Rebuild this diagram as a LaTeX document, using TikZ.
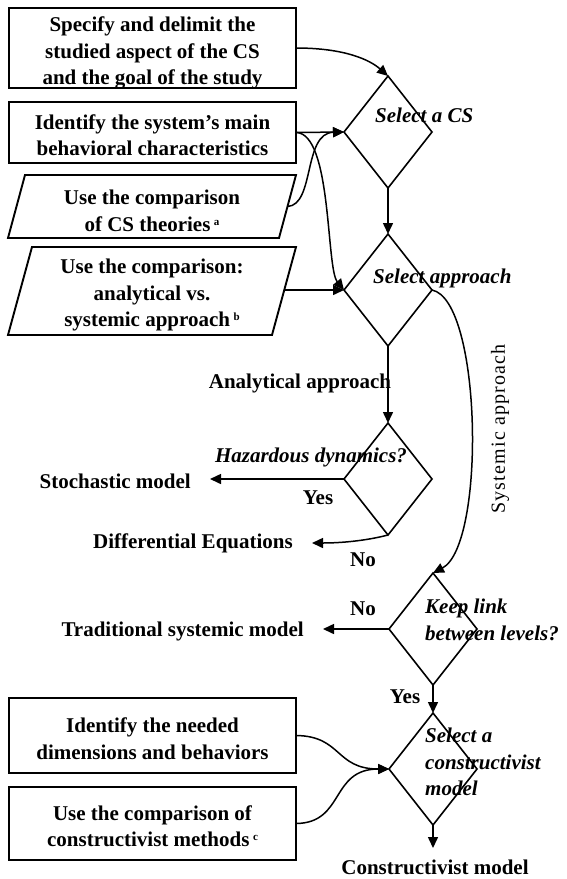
\documentclass[tikz,border=0pt]{standalone}
\usepackage{fontspec}
\setmainfont{Liberation Serif}
\usetikzlibrary{arrows.meta,shapes.geometric}
\newcommand{\supl}[1]{\,\raisebox{6pt}{\fontsize{11}{11}\selectfont #1}}
\begin{document}
\begin{tikzpicture}[x=1pt,y=-1pt,
  box/.style={draw, line width=1.9pt, inner sep=0pt, outer sep=0pt, minimum width=287pt},
  pgram/.style={line width=1.9pt, line join=miter},
  txt/.style={font=\fontsize{21}{26.5}\selectfont\bfseries, align=center, inner sep=0pt},
  dtxt/.style={font=\fontsize{21}{26.5}\selectfont\bfseries\itshape, align=left, inner sep=0pt},
  lbl/.style={font=\fontsize{21}{26.5}\selectfont\bfseries, inner sep=0pt},
  outl/.style={font=\fontsize{21}{26.5}\selectfont\bfseries, inner ysep=0pt, inner xsep=19pt, anchor=east},
  dia/.style={diamond, draw, line width=1.6pt, inner sep=0pt, outer sep=0pt,
    minimum width=88pt, minimum height=112pt},
  con/.style={line width=1.5pt, -{Triangle[length=11pt,width=10pt]}}
]
\useasboundingbox (0,0) rectangle (566,879);

% left boxes
\node[box, minimum height=80pt] (b1) at (152.5,48) {};
\node[txt] (b1t) at (152.5,53)
  {Specify and delimit the\\studied aspect of the CS\\and the goal of the study};
\node[box, minimum height=61pt] (b2) at (152.5,132.5) {};
\node[txt] (b2t) at (152.5,135)
  {Identify the system’s main\\behavioral characteristics};
\draw[pgram] (25,175) -- (296,175) -- (279,238) -- (8,238) -- cycle;
\node[txt] (p1) at (152,211) {Use the comparison\\of CS theories\supl{a}};
\coordinate (p1e) at (287.5,206.5);
\draw[pgram] (32,247) -- (296,247) -- (272,335) -- (8,335) -- cycle;
\node[txt] (p2) at (152,295) {Use the comparison:\\analytical vs.\\systemic approach\supl{b}};
\coordinate (p2e) at (284,290);
\node[box, minimum height=75pt] (b3) at (152.5,735.5) {};
\node[txt] (b3t) at (152.5,738.5)
  {Identify the needed\\dimensions and behaviors};
\node[box, minimum height=73pt] (b4) at (152.5,823.5) {};
\node[txt] (b4t) at (152.5,826)
  {Use the comparison of\\constructivist methods\supl{c}};

% diamonds
\node[dia] (d1) at (388,132) {};
\node[dia] (d2) at (388,290) {};
\node[dia] (d3) at (388,479) {};
\node[dia] (d4) at (433,629) {};
\node[dia] (d5) at (433,769) {};

% diamond texts
\node[dtxt, anchor=west] (t1) at (375,115) {Select a CS};
\node[dtxt, anchor=west] (t2) at (373,278) {Select approach};
\node[dtxt] (t3) at (311,457) {Hazardous dynamics?};
\node[dtxt, anchor=west] (t4) at (425,620) {Keep link\\between levels?};
\node[dtxt, anchor=west] (t5) at (425,762) {Select a\\constructivist\\model};

% outcome labels
\node[outl] (stoch) at (210,481) {Stochastic model};
\node[outl] (diff) at (312,543) {Differential Equations};
\node[outl] (trad) at (323,631) {Traditional systemic model};
\node[lbl] (cm) at (435,867) {Constructivist model};
\coordinate (cmt) at (433,848);

% branch labels
\node[lbl] (ana) at (300,383) {Analytical approach};
\node[font=\fontsize{20}{24}\selectfont\addfontfeature{LetterSpace=6.0}, rotate=90, inner sep=0pt] (sys) at (500,429) {Systemic approach};
\node[lbl] (yes1) at (318,498) {Yes};
\node[lbl] (no1) at (363,560) {No};
\node[lbl] (no2) at (363,609) {No};
\node[lbl] (yes2) at (405,697) {Yes};

% connectors
\draw[con] (b1.east) .. controls (345,48) and (370,60) .. (d1.north);
\draw[con] (b2.east) -- (d1.west);
\draw[con] (b2.east) .. controls (332,133) and (326,268) .. (d2.west);
\draw[con] (p1e) .. controls (315,205) and (303,133) .. (d1.west);
\draw[con] (p2e) -- (d2.west);
\draw[con] (d1.south) -- (d2.north);
\draw[con] (d2.south) -- (d3.north);
\draw[con] (d2.east) .. controls (482,300) and (486,545) .. (d4.north);
\draw[con] (d3.west) -- (d3.west -| stoch.east);
\draw[con] (d3.south) .. controls (365,541) and (340,543) .. (diff.east);
\draw[con] (d4.west) -- (d4.west -| trad.east);
\draw[con] (d4.south) -- (d5.north);
\draw[con] (b3.east) .. controls (342,736) and (335,769) .. (d5.west);
\draw[con] (b4.east) .. controls (345,823) and (330,769) .. (d5.west);
\draw[con] (d5.south) -- (cmt);
\end{tikzpicture}
\end{document}
